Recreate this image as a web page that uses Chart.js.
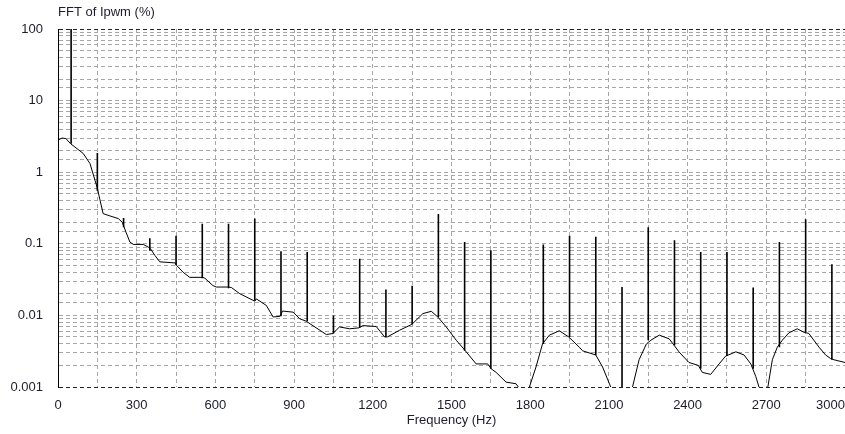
<!DOCTYPE html>
<html lang="en">
<head>
  <meta charset="UTF-8" />
  <title>FFT of Ipwm</title>
  <style>
    body {
      background: #ffffff;
      margin: 0;
      overflow: hidden;
    }
    canvas {
      display: block;
    }
  </style>
  <script src="https://cdn.jsdelivr.net/npm/chart.js"></script>
</head>
<body>
  <canvas id="fftChart" width="845" height="434"></canvas>

  <script>
    // noise floor of the spectrum (Hz, %)
    const floorFreq = [0, 15, 30, 48, 96, 122, 141, 150, 160, 172, 198, 230, 245, 259, 274, 287, 325, 344, 353, 369, 388, 448, 452, 477, 502, 551, 560, 591, 604, 648, 661, 693, 750, 756, 794, 820, 846, 856, 896, 921, 946, 1023, 1048, 1073, 1112, 1147, 1162, 1213, 1245, 1255, 1302, 1349, 1391, 1423, 1448, 1480, 1518, 1553, 1594, 1638, 1651, 1670, 1708, 1746, 1759, 1772, 1788, 1797, 1822, 1847, 1873, 1911, 1947, 1987, 2000, 2050, 2076, 2107, 2118, 2178, 2190, 2215, 2243, 2260, 2292, 2330, 2349, 2367, 2405, 2441, 2456, 2488, 2520, 2545, 2584, 2615, 2641, 2660, 2672, 2682, 2698, 2706, 2723, 2742, 2761, 2786, 2818, 2844, 2862, 2901, 2926, 2945, 2958, 3000];
    const floorAmp = [2.8, 3.0, 2.95, 2.5, 1.83, 1.32, 0.77, 0.6, 0.41, 0.264, 0.245, 0.225, 0.2, 0.146, 0.106, 0.098, 0.098, 0.09, 0.085, 0.069, 0.056, 0.054, 0.05, 0.04, 0.034, 0.034, 0.033, 0.026, 0.0249, 0.0249, 0.0245, 0.0201, 0.0158, 0.017, 0.0138, 0.0095, 0.0097, 0.0115, 0.0111, 0.009, 0.0083, 0.0054, 0.0056, 0.0069, 0.0065, 0.0067, 0.0072, 0.007, 0.005, 0.005, 0.0062, 0.0075, 0.0106, 0.0114, 0.0095, 0.0069, 0.0045, 0.0032, 0.0021, 0.0021, 0.0018, 0.0016, 0.00117, 0.00111, 0.00095, 0.0007, 0.0007, 0.001, 0.0019, 0.004, 0.0053, 0.0061, 0.005, 0.0036, 0.0032, 0.0028, 0.0019, 0.001, 0.0007, 0.0007, 0.001, 0.0024, 0.004, 0.0045, 0.0053, 0.0047, 0.0038, 0.0031, 0.0022, 0.002, 0.0016, 0.0015, 0.0021, 0.0027, 0.0031, 0.0028, 0.0021, 0.0014, 0.001, 0.0007, 0.0007, 0.001, 0.0024, 0.0036, 0.0045, 0.0057, 0.0065, 0.0058, 0.0056, 0.0036, 0.0028, 0.0025, 0.0024, 0.0022];

    // harmonic spikes: frequency, foot and top (%)
    const spikeFreq = [50, 150, 250, 350, 450, 550, 650, 750, 850, 950, 1050, 1150, 1250, 1350, 1450, 1550, 1650, 1850, 1950, 2050, 2150, 2250, 2350, 2450, 2550, 2650, 2750, 2850, 2950];
    const spikeBase = [2.5, 0.55, 0.17, 0.08, 0.05, 0.033, 0.024, 0.016, 0.0097, 0.0083, 0.0056, 0.0067, 0.005, 0.0075, 0.0095, 0.0032, 0.0018, 0.004, 0.005, 0.0028, 0.0005, 0.0045, 0.0038, 0.0018, 0.0027, 0.0018, 0.0036, 0.0058, 0.0024];
    const spikePeak = [100, 1.85, 0.23, 0.12, 0.13, 0.19, 0.19, 0.225, 0.079, 0.077, 0.01, 0.062, 0.023, 0.026, 0.26, 0.106, 0.081, 0.098, 0.13, 0.125, 0.025, 0.17, 0.112, 0.077, 0.077, 0.0245, 0.106, 0.22, 0.052];

    // axis labels
    const xTickValues = [0, 300, 600, 900, 1200, 1500, 1800, 2100, 2400, 2700, 3000];
    const yTickValues = [0.001, 0.01, 0.1, 1, 10, 100];
    const yTickLabels = ['0.001', '0.01', '0.1', '1', '10', '100'];

    const labelFont = { family: 'Liberation Sans', size: 13 };
    const labelColor = '#1c1c2c';
    const gridGrey = '#a6a6a6';

    const floorData = floorFreq.map((f, i) => ({ x: f, y: floorAmp[i] }));
    const spikeData = spikeFreq.flatMap((f, i) => [
      { x: f, y: spikeBase[i] },
      { x: f, y: spikePeak[i] },
      { x: f, y: null }
    ]);

    function isDecade(v, target) {
      return Math.abs(Math.log10(v) - Math.log10(target)) < 1e-6;
    }

    // last x label is pushed inside the canvas, right aligned
    const lastLabel = {
      id: 'lastLabel',
      afterDraw(chart) {
        const sx = chart.scales.x;
        const c = chart.ctx;
        c.save();
        c.font = labelFont.size + 'px "' + labelFont.family + '"';
        c.fillStyle = labelColor;
        c.textAlign = 'right';
        c.textBaseline = 'middle';
        c.fillText(String(xTickValues[xTickValues.length - 1]), chart.width, sx.top + 11 + labelFont.size * 0.6);
        c.restore();
      }
    };

    const ctx = document.getElementById('fftChart').getContext('2d');
    const chart = new Chart(ctx, {
      type: 'line',
      data: {
        datasets: [
          {
            label: 'floor',
            data: floorData,
            borderColor: '#000',
            borderWidth: 1,
            pointRadius: 0,
            tension: 0
          },
          {
            label: 'spikes',
            data: spikeData,
            borderColor: '#000',
            borderWidth: 1.6,
            pointRadius: 0,
            spanGaps: false
          }
        ]
      },
      options: {
        responsive: false,
        animation: false,
        devicePixelRatio: 1,
        layout: { padding: { left: 0, right: 0, top: 0, bottom: 0 } },
        scales: {
          x: {
            type: 'linear',
            min: 0,
            max: 3000,
            afterFit(scale) {
              scale.height = 47;
              scale.paddingLeft = 0;
              scale.paddingRight = 0;
            },
            ticks: {
              stepSize: 150,
              autoSkip: false,
              maxRotation: 0,
              padding: 11,
              color: labelColor,
              font: labelFont,
              callback: (v) => (xTickValues.includes(v) && v !== 3000 ? String(v) : '')
            },
            grid: { color: gridGrey, drawTicks: false },
            border: { display: false, dash: [4, 3] },
            title: {
              display: true,
              text: 'Frequency (Hz)',
              color: labelColor,
              font: labelFont,
              padding: { top: 0, bottom: 6 }
            }
          },
          y: {
            type: 'logarithmic',
            min: 0.001,
            max: 100,
            afterFit(scale) {
              scale.width = 58;
            },
            ticks: {
              autoSkip: false,
              padding: 15,
              color: labelColor,
              font: labelFont,
              callback: (v) => {
                const k = yTickValues.findIndex((t) => isDecade(v, t));
                return k >= 0 ? yTickLabels[k] : '';
              }
            },
            grid: {
              drawTicks: false,
              color: (c) => (c.tick && (isDecade(c.tick.value, 100) || isDecade(c.tick.value, 0.001)) ? '#222' : gridGrey)
            },
            border: { display: true, color: '#000', width: 1, dash: [4, 3] }
          }
        },
        plugins: {
          legend: { display: false },
          tooltip: { enabled: false },
          title: {
            display: true,
            text: 'FFT of Ipwm (%)',
            align: 'start',
            fullSize: false,
            color: labelColor,
            font: { family: 'Liberation Sans', size: 13, weight: 'normal' },
            padding: { top: 5, bottom: 8.4 }
          }
        }
      },
      plugins: [lastLabel]
    });
  </script>
</body>
</html>
